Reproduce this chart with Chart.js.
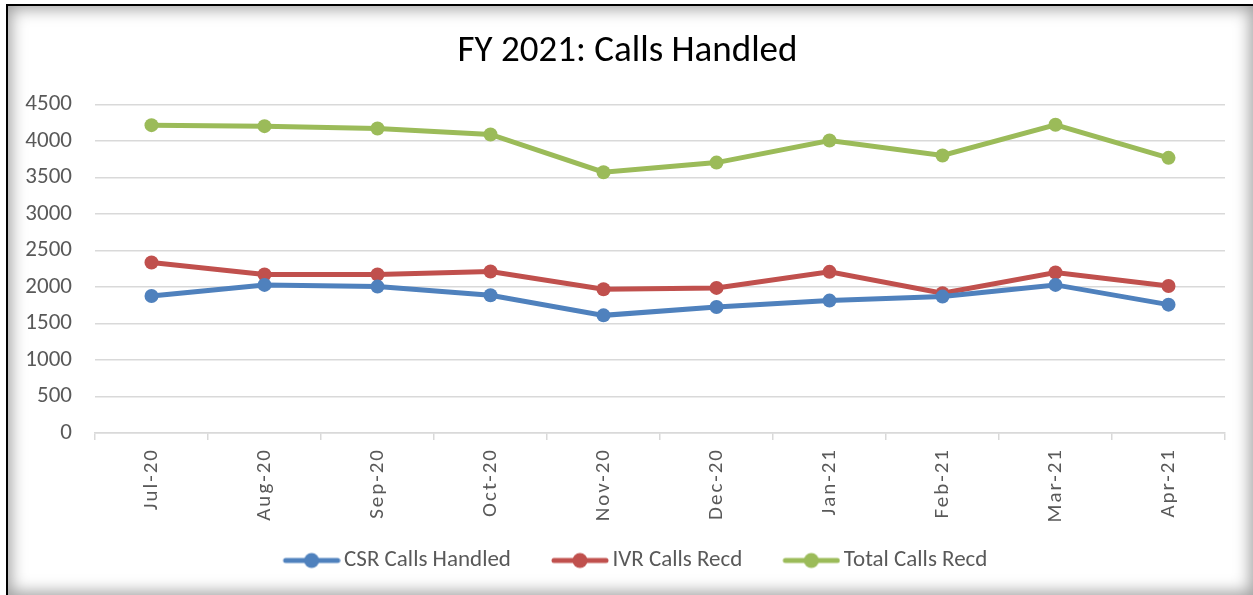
<!DOCTYPE html>
<html>
<head>
<meta charset="utf-8">
<script src="https://cdn.jsdelivr.net/npm/chart.js@4/dist/chart.umd.min.js"></script>
<style>
  html, body { margin: 0; padding: 0; background: #fff; }
  body { width: 1253px; height: 595px; position: relative; overflow: hidden; }
  #frame {
    position: absolute; left: 6px; top: 4px; width: 1247px; height: 591px;
    box-sizing: border-box;
    border-top: 2px solid #000; border-left: 2px solid #000;
    box-shadow: inset 0 0 16px 3px rgba(0,0,0,0.38);
  }
  #wrap { position: absolute; left: 0; top: 0; width: 1253px; height: 595px; }
</style>
</head>
<body>
<div id="frame"></div>
<div id="wrap"><canvas id="callsChart"></canvas></div>
<script>
// chart data
const months = ['Jul-20', 'Aug-20', 'Sep-20', 'Oct-20', 'Nov-20', 'Dec-20', 'Jan-21', 'Feb-21', 'Mar-21', 'Apr-21'];
const csrHandled = [1877, 2028, 2005, 1886, 1611, 1726, 1813, 1868, 2028, 1758];
const ivrRecd = [2335, 2170, 2170, 2211, 1968, 1987, 2207, 1914, 2197, 2014];
const totalRecd = [4216, 4202, 4170, 4088, 3571, 3703, 4006, 3800, 4221, 3768];
const yTicks = [0, 500, 1000, 1500, 2000, 2500, 3000, 3500, 4000, 4500];

const seriesNames = ['CSR Calls Handled', 'IVR Calls Recd', 'Total Calls Recd'];
const seriesColors = ['#4F81BD', '#C0504D', '#9BBB59'];

const fontFamily = 'Carlito, "Open Sans", "Liberation Sans", sans-serif';
const legendBox = 65;

// line+dot marker for the legend, drawn at the right end of the image
// (the empty left part adds to the gap between entries)
function legendMarker(color) {
    const c = document.createElement('canvas');
    c.width = legendBox + 16;
    c.height = 18;
    const g = c.getContext('2d');
    const x0 = c.width - 58;
    g.strokeStyle = color;
    g.lineWidth = 5;
    g.lineCap = 'round';
    g.beginPath();
    g.moveTo(x0 + 3, 9);
    g.lineTo(x0 + 55, 9);
    g.stroke();
    g.fillStyle = color;
    g.beginPath();
    g.arc(x0 + 29, 9, 7.5, 0, Math.PI * 2);
    g.fill();
    return c;
}

// month labels are spread out a little in the original;
// y labels may run left of the axis box, so no clipping there
const axisTweaks = {
    id: 'axisTweaks',
    afterUpdate(chart) {
        const sx = chart.scales.x;
        const sy = chart.scales.y;
        if (!sx._spaced) {
            const orig = sx.drawLabels;
            sx.drawLabels = function (area) {
                chart.ctx.save();
                chart.ctx.letterSpacing = '2px';
                orig.call(this, area);
                chart.ctx.restore();
            };
            sx._spaced = true;
        }
        sy._computeLabelArea = () => undefined;
    }
};

const seriesData = [csrHandled, ivrRecd, totalRecd];
const datasets = seriesData.map((vals, i) => ({
    label: seriesNames[i],
    data: vals,
    borderColor: seriesColors[i],
    backgroundColor: seriesColors[i],
    borderWidth: 5,
    pointRadius: 7,
    pointHoverRadius: 7,
    pointBackgroundColor: seriesColors[i],
    pointBorderWidth: 0,
    tension: 0,
    fill: false
}));

const ctx = document.getElementById('callsChart').getContext('2d');
new Chart(ctx, {
    type: 'line',
    data: { labels: months, datasets: datasets },
    plugins: [axisTweaks],
    options: {
        responsive: true,
        maintainAspectRatio: false,
        animation: false,
        layout: { padding: { left: 30, right: 28, top: 0, bottom: 13 } },
        plugins: {
            title: {
                display: true,
                text: 'FY 2021: Calls Handled',
                color: '#000',
                font: { family: fontFamily, size: 37, weight: 'normal' },
                padding: { top: 30, bottom: 30 }
            },
            legend: {
                position: 'bottom',
                labels: {
                    color: '#595959',
                    font: { family: fontFamily, size: 23 },
                    usePointStyle: true,
                    pointStyleWidth: legendBox,
                    padding: 25,
                    generateLabels: (chart) => chart.data.datasets.map((ds, i) => ({
                        text: ds.label,
                        fontColor: '#595959',
                        pointStyle: legendMarker(seriesColors[i]),
                        datasetIndex: i,
                        hidden: false,
                        lineWidth: 0
                    }))
                }
            },
            tooltip: { enabled: false }
        },
        scales: {
            x: {
                offset: true,
                afterFit: (s) => { s.height = 91; },
                grid: {
                    display: true,
                    offset: true,
                    drawOnChartArea: false,
                    tickLength: 7,
                    color: '#d9d9d9',
                    lineWidth: 1.5
                },
                border: { display: true, color: '#d9d9d9', width: 1.5 },
                ticks: {
                    color: '#595959',
                    font: { family: fontFamily, size: 21 },
                    minRotation: 90,
                    maxRotation: 90,
                    padding: 8
                }
            },
            y: {
                min: 0,
                max: 4500,
                afterFit: (s) => { s.width = 65; },
                afterBuildTicks: (s) => { s.ticks = yTicks.map(v => ({ value: v })); },
                grid: { color: '#d9d9d9', lineWidth: 1.5, drawTicks: false },
                border: { display: false },
                ticks: {
                    color: '#595959',
                    font: { family: fontFamily, size: 23 },
                    padding: 23,
                    callback: (v) => String(v)
                }
            }
        }
    }
});
</script>
</body>
</html>
